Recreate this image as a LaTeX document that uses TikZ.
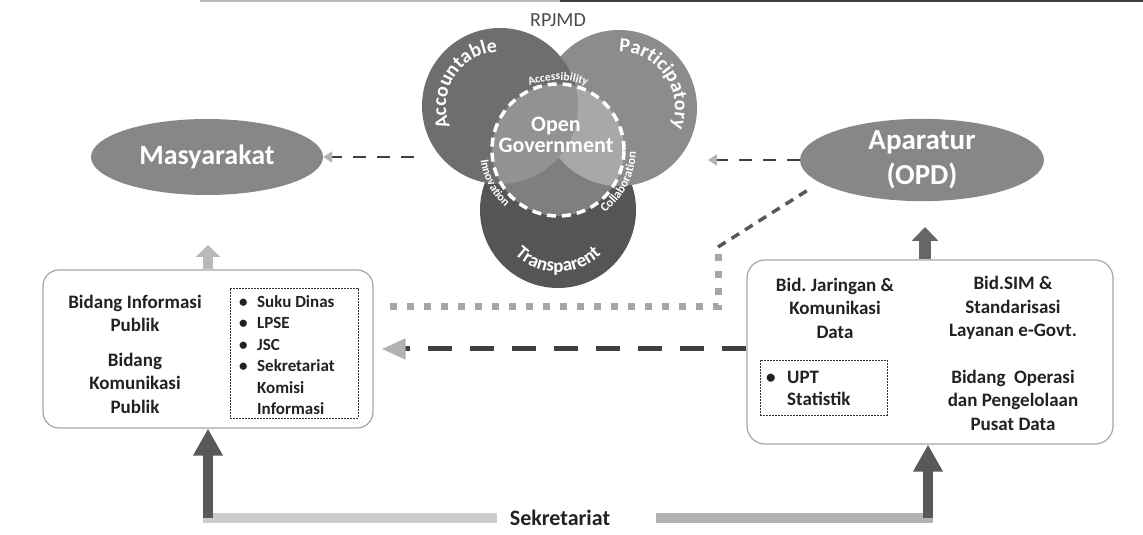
\documentclass[tikz,border=0pt]{standalone}
\usepackage{fontspec}
\setmainfont{Carlito}
\usetikzlibrary{shapes.geometric,arrows.meta,decorations.text,calc}
\definecolor{accC}{HTML}{6E6E6E}
\definecolor{parC}{HTML}{8C8C8C}
\definecolor{traC}{HTML}{555555}
\definecolor{ellC}{HTML}{878787}
\definecolor{txtC}{HTML}{222222}
\begin{document}
\begin{tikzpicture}[x=1pt,y=1pt,
  bigcirc/.style={circle, minimum size=156pt, inner sep=0pt},
  oval/.style={ellipse, fill=ellC, text=white, font=\bfseries\fontsize{28}{33}\selectfont, align=center, inner sep=0pt},
  boxtxt/.style={font=\bfseries\fontsize{19}{23.5}\selectfont, text=txtC, align=center},
  listtxt/.style={font=\bfseries\fontsize{17}{21.5}\selectfont, text=txtC, align=left, inner sep=0pt, anchor=west},
  panel/.style={draw=gray!70, line width=1.2pt, rounded corners=16pt, fill=white},
  subpanel/.style={draw=black!80, line width=0.8pt, dash pattern=on 2pt off 1pt},
  thindash/.style={draw=black!75, line width=2.5pt, dash pattern=on 13pt off 11pt, -{Triangle[width=11pt,length=9pt,color=gray!60]}},
  arctext/.style={decorate, decoration={text along path, text align=center, text color=white, text={#1}}},
  blockup/.style={line width=10pt, black!65, -{Triangle[width=28pt,length=27pt]}}
]
\useasboundingbox (0,0) rectangle (1143,535);

% scan edge at the top
\draw[gray!55, line width=1.5pt] (200,534.2) -- (560,534.2);
\draw[black!75, line width=1.5pt] (560,534.2) -- (1143,534.2);

\node[font=\fontsize{20}{20}\selectfont, text=black!70] (rpjmd) at (558,515) {RPJMD};

% three circles
\node[bigcirc, fill=traC] (tra) at (558,325) {};
\node[bigcirc, fill=parC] (par) at (619,427) {};
\node[bigcirc, fill=accC] (acc) at (500,429) {};
\node[circle, minimum size=132pt, inner sep=0pt, fill=white, fill opacity=0.25, draw=white, draw opacity=1, line width=3.5pt, dash pattern=on 9pt off 6pt] (og) at (558,385) {};
\node[font=\bfseries\fontsize{22}{21}\selectfont, text=white, align=center] (ogt) at (556,400) {Open\\Government};

\path[arctext={|\bfseries\fontsize{20}{20}\selectfont|Accountable}] ($(acc.center)+(215:54)$) arc[start angle=215, end angle=80, radius=54];
\path[arctext={|\bfseries\fontsize{20}{20}\selectfont|Participatory}] ($(par.center)+(100:56)$) arc[start angle=100, end angle=-30, radius=56];
\path[arctext={|\bfseries\fontsize{19}{19}\selectfont|Transparent}] ($(tra.center)+(215:62)$) arc[start angle=215, end angle=325, radius=62];
\path[arctext={|\bfseries\fontsize{11.5}{11.5}\selectfont|Accessibility}] ($(og.center)+(125:70)$) arc[start angle=125, end angle=55, radius=70];
\path[arctext={|\bfseries\fontsize{12}{12}\selectfont|Innovation}] ($(og.center)+(170:78)$) arc[start angle=170, end angle=245, radius=78];
\path[arctext={|\bfseries\fontsize{12.5}{12.5}\selectfont|Collaboration}] ($(og.center)+(290:78)$) arc[start angle=290, end angle=375, radius=78];

% ovals
\node[oval, minimum width=232pt, minimum height=76pt] (mas) at (207,378) {Masyarakat};
\node[oval, minimum width=244pt, minimum height=80pt, font=\bfseries\fontsize{29}{35}\selectfont] (apa) at (922,375) {Aparatur\\(OPD)};

\coordinate (ms) at (414,378);
\coordinate (pt) at (708,375);
\draw[thindash] (ms) -- (mas.east);
\draw[thindash] (apa.west) -- (pt);

% left panel
\node[panel, minimum width=330pt, minimum height=158pt] (lb) at (208,186) {};
\node[subpanel, minimum width=128pt, minimum height=130pt] (lsub) at (294,182) {};
\node[boxtxt] (bip) at (135,221.5) {Bidang Informasi\\Publik};
\node[boxtxt] (bkp) at (135,152) {Bidang\\Komunikasi\\Publik};
\node[listtxt] (list) at (239,180) {\makebox[18pt][l]{\textbullet}Suku Dinas\\\makebox[18pt][l]{\textbullet}LPSE\\\makebox[18pt][l]{\textbullet}JSC\\\makebox[18pt][l]{\textbullet}Sekretariat\\\makebox[18pt]{}Komisi\\\makebox[18pt]{}Informasi};

% right panel
\node[panel, minimum width=366pt, minimum height=184pt, rounded corners=18pt] (rb) at (930,183) {};
\node[boxtxt] (bjk) at (835,227) {Bid.\ Jaringan \&\\Komunikasi\\Data};
\node[boxtxt] (bsim) at (1013,227) {Bid.SIM \&\\Standarisasi\\Layanan e-Govt.};
\node[boxtxt] (bop) at (1013,135) {Bidang\ \ Operasi\\dan Pengelolaan\\Pusat Data};
\node[subpanel, minimum width=127pt, minimum height=55pt] (upt) at (823.5,147.5) {};
\node[listtxt, font=\bfseries\fontsize{19}{22}\selectfont] (uptt) at (766,147) {\makebox[21pt][l]{\textbullet}UPT\\\makebox[21pt]{}Statistik};

% up arrows above panels
\coordinate (upL) at (208,290);
\coordinate (upR) at (925,308);
\draw[line width=10pt, gray!55, -{Triangle[width=24pt,length=12pt]}] (lb.north) -- (upL);
\draw[line width=12pt, black!60, -{Triangle[width=26pt,length=14pt]}] ([xshift=-5pt]rb.north) -- (upR);

% dotted link from left panel to Aparatur
\coordinate (d0) at (390,228);
\coordinate (d1) at (718,228);
\coordinate (d2) at (718,288);
\coordinate (d3) at (808,345);
\draw[gray!70, line width=7pt, dash pattern=on 7pt off 10pt] (d0) -- (d1) -- (d2);
\draw[black!65, line width=3.5pt, dash pattern=on 9pt off 7pt] (d2) -- (d3);

% dashed arrow right panel -> left panel
\draw[black!75, line width=5pt, dash pattern=on 24pt off 18pt, -{Triangle[width=20pt,length=24pt,color=gray!60]}] (rb.west |- lb.east) -- ([xshift=8pt]lb.east);

% Sekretariat
\node[font=\bfseries\fontsize{22}{22}\selectfont, text=txtC, inner xsep=18pt] (sek) at (560,17) {Sekretariat};
\coordinate (cl) at (208,17);
\coordinate (cr) at (928,17);
\draw[line width=10pt, gray!40, line cap=rect] (sek.west) -- (cl);
\draw[line width=10pt, gray!60, line cap=rect, shorten <=33pt] (sek.east) -- (cr);
\draw[blockup] (cl) -- (lb.south);
\draw[blockup] (cr) -- (rb.south -| cr);
\end{tikzpicture}
\end{document}
